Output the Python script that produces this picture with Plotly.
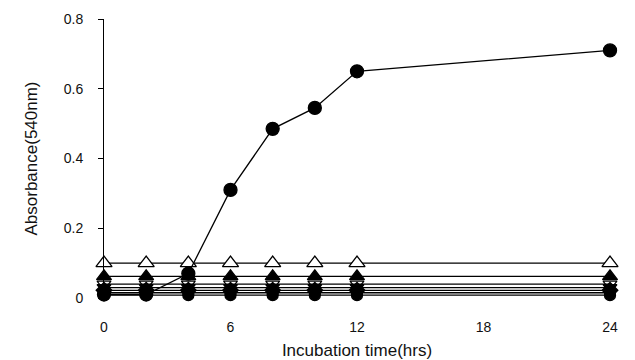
import plotly.graph_objects as go

hours = [0, 2, 4, 6, 8, 10, 12, 24]

# absorbance readings per culture
growth = [0.01, 0.01, 0.07, 0.31, 0.485, 0.545, 0.65, 0.71]
ctrl_a = [0.10, 0.10, 0.10, 0.10, 0.10, 0.10, 0.10, 0.10]
ctrl_b = [0.062, 0.062, 0.062, 0.062, 0.062, 0.062, 0.062, 0.062]
ctrl_c = [0.040, 0.040, 0.040, 0.040, 0.040, 0.040, 0.040, 0.040]
ctrl_d = [0.030, 0.030, 0.030, 0.030, 0.030, 0.030, 0.030, 0.030]
ctrl_e = [0.022, 0.022, 0.022, 0.022, 0.022, 0.022, 0.022, 0.022]
ctrl_f = [0.015, 0.015, 0.015, 0.015, 0.015, 0.015, 0.015, 0.015]
ctrl_g = [0.008, 0.008, 0.008, 0.008, 0.008, 0.008, 0.008, 0.008]

series = [
    (ctrl_g, "circle", "black", 11),
    (ctrl_f, "circle-open", "black", 11),
    (ctrl_e, "diamond", "black", 12),
    (ctrl_d, "triangle-down", "black", 12),
    (ctrl_c, "triangle-down-open", "black", 12),
    (ctrl_b, "triangle-up", "black", 13),
    (ctrl_a, "triangle-up", "white", 14),
    (growth, "circle", "black", 13),
]

fig = go.Figure()
for vals, sym, fill, size in series:
    fig.add_trace(go.Scatter(
        x=hours, y=vals, mode="lines+markers",
        line=dict(color="black", width=1.3),
        marker=dict(symbol=sym, size=size, color=fill,
                    line=dict(color="black", width=1.3)),
        cliponaxis=False, showlegend=False,
    ))

font = dict(family="Liberation Sans, Arial, sans-serif", size=14, color="#111")

fig.update_layout(
    width=635, height=360,
    margin=dict(l=104, r=25, t=19, b=62),
    paper_bgcolor="white", plot_bgcolor="white",
    font=font,
)
fig.update_xaxes(
    range=[0, 24], tickvals=[0, 6, 12, 18, 24],
    showgrid=False, zeroline=False, showline=False, automargin=False,
    ticks="", ticklabelstandoff=19,
    title=dict(text="Incubation time(hrs)", standoff=13),
)
fig.update_yaxes(
    range=[0, 0.8], tickvals=[0, 0.2, 0.4, 0.6, 0.8],
    ticktext=["0", "0.2", "0.4", "0.6", "0.8"],
    showgrid=False, zeroline=False, showline=True, linecolor="black", linewidth=1,
    automargin=False,
    ticks="outside", ticklen=5, tickcolor="black", ticklabelstandoff=12,
    title=dict(text="Absorbance(540nm)", standoff=21),
)

fig.write_html("out.html")
